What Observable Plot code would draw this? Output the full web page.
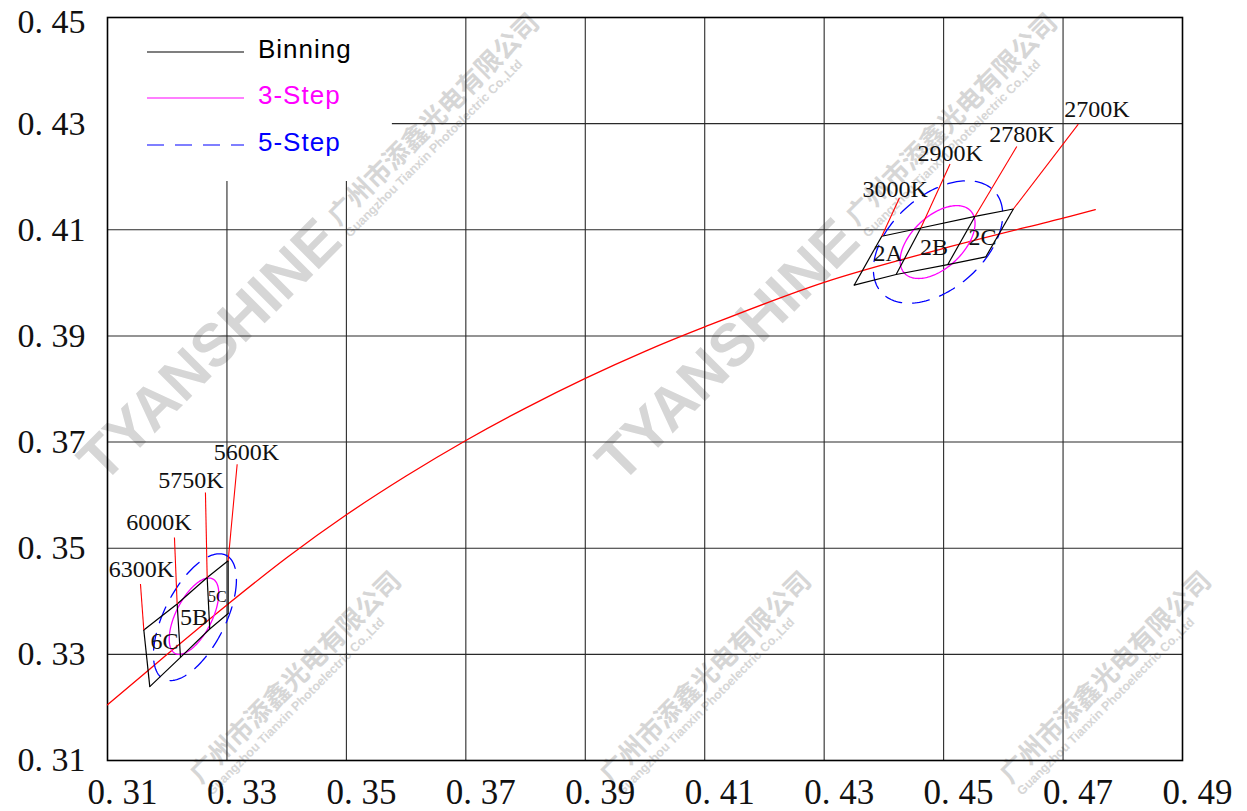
<!DOCTYPE html>
<html><head><meta charset="utf-8">
<script src="https://cdn.jsdelivr.net/npm/d3@7"></script>
<script src="https://cdn.jsdelivr.net/npm/@observablehq/plot@0.6"></script>
<style>
html,body{margin:0;padding:0;background:#fff;}
#wrap{position:relative;width:1247px;height:811px;overflow:hidden;}
#wm{position:absolute;left:0;top:0;z-index:0;}
#chart{position:absolute;left:0;top:0;z-index:1;}
#legend{position:absolute;left:0;top:0;z-index:2;pointer-events:none;}
</style></head><body>
<div id="wrap">
<svg id="wm" width="1247" height="811"></svg>
<div id="chart"></div>
<svg id="legend" width="1247" height="811"></svg>
</div>
<script>
// ---------- data ----------
const xTicks = [0.31, 0.33, 0.35, 0.37, 0.39, 0.41, 0.43, 0.45, 0.47, 0.49];
const yTicks = [0.31, 0.33, 0.35, 0.37, 0.39, 0.41, 0.43, 0.45];

// Planckian locus
const locusX = [0.31, 0.32, 0.33, 0.34, 0.35, 0.36, 0.37, 0.38, 0.39, 0.40, 0.41, 0.43, 0.45, 0.47, 0.4754];
const locusY = [0.3205, 0.3300, 0.3393, 0.3482, 0.3563, 0.3636, 0.3703, 0.3764, 0.3820, 0.3871, 0.3917, 0.4001, 0.4065, 0.4122, 0.4138];

// Cool-white bins (6C / 5B / 5C): boundary lines top & bottom points
const lowCct   = ["6300K", "6000K", "5750K", "5600K"];
const lowTopX  = [0.31608, 0.32166, 0.32669, 0.33020];
const lowTopY  = [0.33459, 0.33948, 0.34449, 0.34763];
const lowBotX  = [0.31708, 0.32222, 0.32712, 0.33020];
const lowBotY  = [0.32392, 0.32944, 0.33478, 0.33771];
const lowLeadX = [0.31552, 0.32121, 0.32640, 0.33171];
const lowLeadY = [0.34325, 0.35201, 0.36048, 0.36582];
const lowLabX  = [0.31569, 0.31862, 0.32397, 0.33326];
const lowLabY  = [0.34443, 0.35327, 0.36118, 0.36645];
const lowBins  = ["6C", "5B", "5C"];
const lowBinX  = [0.31954, 0.32448, 0.32841];
const lowBinY  = [0.33239, 0.33691, 0.34086];

// Warm-white bins (2A / 2B / 2C)
const highCct   = ["3000K", "2900K", "2780K", "2700K"];
const highTopX  = [0.43965, 0.44618, 0.45527, 0.46168];
const highTopY  = [0.40878, 0.41034, 0.41254, 0.41392];
const highBotX  = [0.43502, 0.44205, 0.45070, 0.45706];
const highBotY  = [0.39956, 0.40157, 0.40345, 0.40488];
const highLeadX = [0.44260, 0.45108, 0.46225, 0.47256];
const highLeadY = [0.41598, 0.42238, 0.42571, 0.42991];
const highLabX  = [0.44188, 0.45108, 0.46313, 0.47569];
const highLabY  = [0.41593, 0.42270, 0.42628, 0.43098];
const highBins  = ["2A", "2B", "2C"];
const highBinX  = [0.44071, 0.44841, 0.45652];
const highBinY  = [0.40549, 0.40671, 0.40850];

// MacAdam ellipses (centre, semi-axes, angle in degrees)
const ellStep  = ["3-Step", "5-Step", "3-Step", "5-Step"];
const ellCx    = [0.32448, 0.32464, 0.44899, 0.44907];
const ellCy    = [0.33719, 0.33700, 0.40769, 0.40770];
const ellA     = [0.00770, 0.01279, 0.00810, 0.01348];
const ellB     = [0.00310, 0.00524, 0.00457, 0.00828];
const ellTheta = [67, 67, 50, 49];

const legendNames = ["Binning", "3-Step", "5-Step"];

// ---------- layout config ----------
const gridTopCut = {xs: [0.33, 0.35], y2: 0.4191};   // vertical grid lines stop under legend
const gridLeftCut = {ys: [0.43], x1: 0.3577};        // horizontal grid line starts right of legend
const RED = "#ff0000", MAG = "#ff00ff", BLUE = "#0000ff";
const SERIF = "'Liberation Serif', 'DejaVu Serif', serif";

// ---------- build tables ----------
const locus = locusX.map((x, i) => ({x, y: locusY[i]}));
function side(xs, ys) { return xs.map((x, i) => ({x, y: ys[i]})); }
function bounds(tx, ty, bx, by) { return tx.map((x, i) => ({x1: x, y1: ty[i], x2: bx[i], y2: by[i]})); }
function leads(lx, ly, tx, ty) { return lx.map((x, i) => ({x1: x, y1: ly[i], x2: tx[i], y2: ty[i]})); }
function labels(names, xs, ys) { return names.map((t, i) => ({t, x: xs[i], y: ys[i]})); }
function ellipse(i) {
  const th = ellTheta[i] * Math.PI / 180, pts = [];
  for (let k = 0; k <= 180; k++) {
    const t = k / 180 * 2 * Math.PI;
    pts.push({id: i,
      x: ellCx[i] + ellA[i] * Math.cos(th) * Math.cos(t) - ellB[i] * Math.sin(th) * Math.sin(t),
      y: ellCy[i] + ellA[i] * Math.sin(th) * Math.cos(t) + ellB[i] * Math.cos(th) * Math.sin(t)});
  }
  return pts;
}
const ell3 = [], ell5 = [];
ellStep.forEach((s, i) => (s === "3-Step" ? ell3 : ell5).push(...ellipse(i)));

const fmt = d => "0. " + d.toFixed(2).slice(2);
const xGrid = xTicks.slice(1, -1), yGrid = yTicks.slice(1, -1);
const yTicksLow = yTicks.slice(0, -1), yTicksTop = yTicks.slice(-1);
const yAxisStyle = {tickFormat: fmt, tickSize: 0, tickPadding: 22, fontSize: 34, fontFamily: SERIF, fill: "#111", label: null};

const chart = Plot.plot({
  width: 1247, height: 811,
  marginLeft: 107, marginRight: 65, marginTop: 17, marginBottom: 51,
  style: {background: "transparent", overflow: "visible", fontFamily: SERIF},
  x: {domain: [0.31, 0.49]},
  y: {domain: [0.31, 0.45]},
  marks: [
    Plot.ruleX(xGrid, {x: d => d, y1: 0.31, y2: d => gridTopCut.xs.includes(d) ? gridTopCut.y2 : 0.45, stroke: "#2a2a2a", strokeWidth: 1.1}),
    Plot.ruleY(yGrid, {y: d => d, x1: d => gridLeftCut.ys.includes(d) ? gridLeftCut.x1 : 0.31, x2: 0.49, stroke: "#2a2a2a", strokeWidth: 1.1}),
    Plot.frame({stroke: "#000", strokeWidth: 1.6}),
    Plot.axisX({ticks: xTicks, tickFormat: fmt, tickSize: 0, tickPadding: 19, dx: 15, fontSize: 35, fontFamily: SERIF, fill: "#111", label: null}),
    Plot.axisY({ticks: yTicksLow, ...yAxisStyle}),
    Plot.axisY({ticks: yTicksTop, ...yAxisStyle, dy: 5}),
    // Planckian locus
    Plot.line(locus, {x: "x", y: "y", stroke: RED, strokeWidth: 1.3, curve: "catmull-rom"}),
    // ellipses
    Plot.line(ell5, {x: "x", y: "y", z: "id", stroke: BLUE, strokeWidth: 1.3, strokeDasharray: "17,11"}),
    Plot.line(ell3, {x: "x", y: "y", z: "id", stroke: MAG, strokeWidth: 1.3}),
    // bins
    Plot.line(side(lowTopX, lowTopY), {x: "x", y: "y", stroke: "#000", strokeWidth: 1.2}),
    Plot.line(side(lowBotX, lowBotY), {x: "x", y: "y", stroke: "#000", strokeWidth: 1.2}),
    Plot.link(bounds(lowTopX, lowTopY, lowBotX, lowBotY), {x1: "x1", y1: "y1", x2: "x2", y2: "y2", stroke: "#000", strokeWidth: 1.2}),
    Plot.line(side(highTopX, highTopY), {x: "x", y: "y", stroke: "#000", strokeWidth: 1.2}),
    Plot.line(side(highBotX, highBotY), {x: "x", y: "y", stroke: "#000", strokeWidth: 1.2}),
    Plot.link(bounds(highTopX, highTopY, highBotX, highBotY), {x1: "x1", y1: "y1", x2: "x2", y2: "y2", stroke: "#000", strokeWidth: 1.2}),
    // CCT leaders
    Plot.link(leads(lowLeadX, lowLeadY, lowTopX, lowTopY), {x1: "x1", y1: "y1", x2: "x2", y2: "y2", stroke: RED, strokeWidth: 1.1}),
    Plot.link(leads(highLeadX, highLeadY, highTopX, highTopY), {x1: "x1", y1: "y1", x2: "x2", y2: "y2", stroke: RED, strokeWidth: 1.1}),
    // labels
    Plot.text(labels(lowCct, lowLabX, lowLabY).concat(labels(highCct, highLabX, highLabY)),
      {x: "x", y: "y", text: "t", fontSize: 24, fontFamily: SERIF, fill: "#111", textAnchor: "middle", lineAnchor: "bottom", dy: -1}),
    Plot.text(labels(lowBins.slice(0, 2), lowBinX, lowBinY).concat(labels(highBins, highBinX, highBinY)),
      {x: "x", y: "y", text: "t", fontSize: 24, fontFamily: SERIF, fill: "#111", textAnchor: "middle", lineAnchor: "middle"}),
    Plot.text(labels(lowBins.slice(2), lowBinX.slice(2), lowBinY.slice(2)),
      {x: "x", y: "y", text: "t", fontSize: 16, fontFamily: SERIF, fill: "#111", textAnchor: "middle", lineAnchor: "middle"})
  ]
});
document.getElementById("chart").appendChild(chart);

// ---------- legend ----------
const lg = d3.select("#legend");
const legendStyles = [
  {stroke: "#000", dash: null, fill: "#000"},
  {stroke: MAG, dash: null, fill: MAG},
  {stroke: BLUE, dash: "17,11", fill: BLUE}
];
const legendRows = [52, 98, 145];
legendNames.forEach((name, i) => {
  const s = legendStyles[i], y = legendRows[i];
  lg.append("line").attr("x1", 147).attr("x2", 244).attr("y1", y).attr("y2", y)
    .attr("stroke", s.stroke).attr("stroke-width", 1.2).attr("stroke-dasharray", s.dash);
  lg.append("text").attr("x", 258).attr("y", y + 6).text(name)
    .attr("font-family", "'Liberation Sans', Arial, sans-serif").attr("font-size", 26)
    .attr("letter-spacing", 1).attr("fill", s.fill);
});

// ---------- watermark ----------
const wm = d3.select("#wm");
const wmColor = "#d6d6d6";
const wmUnits = [
  {x: 350, y: 238, brand: true}, {x: 868, y: 238, brand: true},
  {x: 212, y: 796, brand: false}, {x: 622, y: 796, brand: false}, {x: 1022, y: 796, brand: false}
];
wmUnits.forEach(u => {
  const g = wm.append("g").attr("transform", `translate(${u.x},${u.y}) rotate(-45)`);
  if (u.brand) g.append("text").attr("x", -8).attr("y", 0).attr("text-anchor", "end")
    .attr("font-family", "'Liberation Sans', Arial, sans-serif").attr("font-weight", "bold")
    .attr("font-size", 60).attr("fill", wmColor).text("TYANSHINE");
  g.append("text").attr("x", 0).attr("y", -16)
    .attr("font-family", "'Noto Sans CJK SC', sans-serif").attr("font-weight", "bold")
    .attr("font-size", 26).attr("fill", wmColor).text("广州市添鑫光电有限公司");
  g.append("text").attr("x", 0).attr("y", 0)
    .attr("font-family", "'Liberation Sans', Arial, sans-serif").attr("font-weight", "bold")
    .attr("font-size", 12.5).attr("fill", wmColor).text("Guangzhou Tianxin Photoelectric Co.,Ltd");
});
</script>
</body></html>
